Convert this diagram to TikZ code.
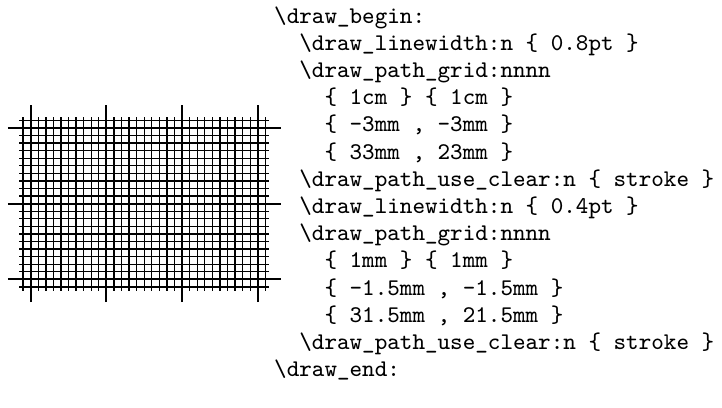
\documentclass[tikz,border=0pt]{standalone}
\usetikzlibrary{positioning}

\begin{document}
\begin{tikzpicture}[
		coarse/.style={line width=0.8pt}
		,fine/.style={line width=0.5pt}
		,codeline/.style={inner sep=0pt, anchor=base west,
			font=\ttfamily\fontsize{9}{10}\selectfont}
	]
		\useasboundingbox (-0.4055,-1.687) rectangle (9.132,3.690);

		\draw[coarse, step=1cm] (-3mm,-3mm) grid (33mm,23mm);
		\foreach \i in {-1,...,31}
			\draw[fine] (\i mm,-1.5mm) -- (\i mm,21.5mm);
		\foreach \j in {-1,...,21}
			\draw[fine] (-1.5mm,\j mm) -- (31.5mm,\j mm);

		% one node per line of the listing
		\foreach \txt [count=\n] in {
			{\textbackslash draw\_begin:},
			{\ \ \textbackslash draw\_linewidth:n \{ 0.8pt \}},
			{\ \ \textbackslash draw\_path\_grid:nnnn},
			{\ \ \ \ \{ 1cm \} \{ 1cm \}},
			{\ \ \ \ \{ -3mm , -3mm \}},
			{\ \ \ \ \{ 33mm , 23mm \}},
			{\ \ \textbackslash draw\_path\_use\_clear:n \{ stroke \}},
			{\ \ \textbackslash draw\_linewidth:n \{ 0.4pt \}},
			{\ \ \textbackslash draw\_path\_grid:nnnn},
			{\ \ \ \ \{ 1mm \} \{ 1mm \}},
			{\ \ \ \ \{ -1.5mm , -1.5mm \}},
			{\ \ \ \ \{ 31.5mm , 21.5mm \}},
			{\ \ \textbackslash draw\_path\_use\_clear:n \{ stroke \}},
			{\textbackslash draw\_end:}}
			\node[codeline] (line\n) at (3.21,{3.386-(\n-1)*0.3593}) {\txt};
	\end{tikzpicture}
\end{document}
